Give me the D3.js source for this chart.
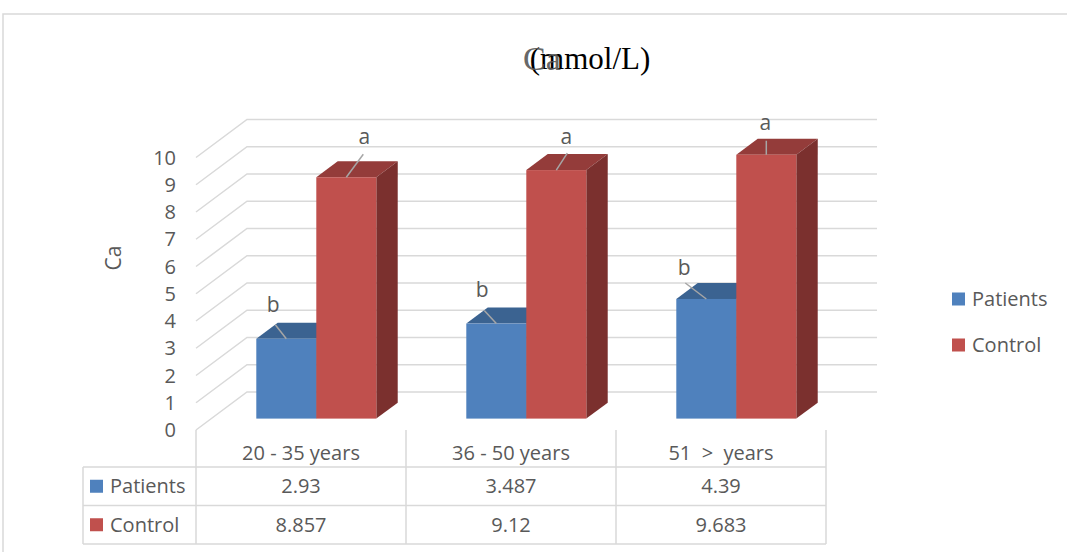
<!DOCTYPE html>
<html>
<head>
<meta charset="utf-8">
<script src="https://cdn.jsdelivr.net/npm/d3@7"></script>
<style>
  html, body { margin: 0; padding: 0; background: #fff; }
  svg { display: block; }
  text { white-space: pre; }
</style>
</head>
<body>
<svg id="chart" width="1067" height="552"></svg>
<script>
// ---- data ----
const categories = ["20 - 35 years", "36 - 50 years", "51  >  years"];
const seriesNames = ["Patients", "Control"];
const patients = [2.93, 3.487, 4.39];
const control = [8.857, 9.12, 9.683];
const patientLetters = ["b", "b", "b"];
const controlLetters = ["a", "a", "a"];
const yTicks = [0, 1, 2, 3, 4, 5, 6, 7, 8, 9, 10];

// ---- styling / layout ----
const colors = {
  Patients: { front: "#4f81bd", top: "#3b6391", side: "#335882" },
  Control:  { front: "#c0504d", top: "#943c3a", side: "#7b302e" }
};
const textColor = "#595959";
const gridColor = "#d9d9d9";
const uiFont = "'Open Sans', 'Noto Sans', sans-serif";
const serifFont = "'Liberation Serif', 'Times New Roman', serif";

const plotLeft = 196, plotRight = 826;
const floorY = 430;                 // value 0 on the front plane
const depth = { x: 51, y: -38 };    // front plane -> back wall
const barNear = 0.30, barFar = 0.72; // bar depth, as fraction of the full depth
const barWidth = 60;

const svg = d3.select("#chart");

const x = d3.scaleBand().domain(categories).range([plotLeft, plotRight]).padding(0);
const y = d3.scaleLinear().domain([0, 10]).range([floorY, floorY - 272.5]);

// outer chart frame
svg.append("rect")
  .attr("x", 3).attr("y", 14).attr("width", 1100).attr("height", 600)
  .attr("fill", "none").attr("stroke", gridColor).attr("stroke-width", 1.5);

// title: unit text with the "Ca" symbol set over its start
svg.append("text")
  .attr("x", 590).attr("y", 69)
  .attr("text-anchor", "middle")
  .attr("font-family", serifFont)
  .attr("font-size", 31)
  .attr("fill", "#000")
  .text("(mmol/L)");
svg.append("text")
  .attr("x", 523).attr("y", 70)
  .attr("font-family", serifFont)
  .attr("font-size", 34)
  .attr("fill", "#595959")
  .attr("fill-opacity", 0.92)
  .text("Ca");

// gridlines: side wall diagonals + back wall horizontals
const grid = svg.append("g").attr("stroke", gridColor).attr("stroke-width", 1.5).attr("fill", "none");
yTicks.forEach(t => {
  const yf = y(t);
  grid.append("path")
    .attr("d", `M${plotLeft},${yf} L${plotLeft + depth.x},${yf + depth.y} L${plotRight + depth.x},${yf + depth.y}`);
});

// y tick labels
svg.append("g").selectAll("text").data(yTicks).join("text")
  .attr("x", 176).attr("y", d => y(d))
  .attr("dy", "0.36em")
  .attr("text-anchor", "end")
  .attr("font-family", uiFont).attr("font-size", 20)
  .attr("fill", textColor)
  .text(d => d);

// y axis title
svg.append("text")
  .attr("transform", "translate(121,258) rotate(-90)")
  .attr("text-anchor", "middle")
  .attr("font-family", uiFont).attr("font-size", 21)
  .attr("fill", textColor)
  .text("Ca");

// bars
const d0 = { x: depth.x * barNear, y: depth.y * barNear };
const d1 = { x: depth.x * barFar, y: depth.y * barFar };
const inner = d3.scaleBand().domain(seriesNames);
const values = { Patients: patients, Control: control };

const barsG = svg.append("g");
categories.forEach((cat, i) => {
  const c = x(cat) + x.bandwidth() / 2;
  inner.range([c - barWidth, c + barWidth]);
  seriesNames.forEach(s => {
    const v = values[s][i];
    const x0 = inner(s), x1 = x0 + inner.bandwidth();
    const yt = y(v), yb = y(0);
    const col = colors[s];
    const g = barsG.append("g");
    // top face
    g.append("path")
      .attr("d", `M${x0 + d0.x},${yt + d0.y} L${x1 + d0.x},${yt + d0.y} L${x1 + d1.x},${yt + d1.y} L${x0 + d1.x},${yt + d1.y} Z`)
      .attr("fill", col.top);
    // side face
    g.append("path")
      .attr("d", `M${x1 + d0.x},${yt + d0.y} L${x1 + d1.x},${yt + d1.y} L${x1 + d1.x},${yb + d1.y} L${x1 + d0.x},${yb + d0.y} Z`)
      .attr("fill", col.side);
    // front face
    g.append("rect")
      .attr("x", x0 + d0.x).attr("y", yt + d0.y)
      .attr("width", x1 - x0).attr("height", yb - yt)
      .attr("fill", col.front);
  });
});

// significance letters with leader lines (offsets from the bar's top front edge)
const letterOffsets = {
  Patients: [{ lx: -11, ly: -14, tx: -13, ty: -34 }, { lx: -12, ly: -13, tx: -14, ty: -34 }, { lx: -21, ly: -16, tx: -22, ty: -32 }],
  Control:  [{ lx: 17, ly: -23, tx: 18, ty: -41 }, { lx: 11, ly: -17, tx: 10, ty: -34 }, { lx: 0, ly: -14, tx: -1, ty: -32 }]
};
const letters = { Patients: patientLetters, Control: controlLetters };
const labelsG = svg.append("g");
categories.forEach((cat, i) => {
  const c = x(cat) + x.bandwidth() / 2;
  inner.range([c - barWidth, c + barWidth]);
  seriesNames.forEach(s => {
    const v = values[s][i];
    const px = inner(s) + inner.bandwidth() / 2 + d0.x;
    const py = y(v) + d0.y;
    const o = letterOffsets[s][i];
    labelsG.append("line")
      .attr("x1", px).attr("y1", py)
      .attr("x2", px + o.lx).attr("y2", py + o.ly)
      .attr("stroke", "#a6a6a6").attr("stroke-width", 1.5);
    labelsG.append("text")
      .attr("x", px + o.tx).attr("y", py + o.ty)
      .attr("dy", "0.36em")
      .attr("text-anchor", "middle")
      .attr("font-family", uiFont).attr("font-size", 21)
      .attr("fill", textColor)
      .text(letters[s][i]);
  });
});

// data table
const rowTop = 467, rowH = 38.5, headerLeft = 83;
const table = svg.append("g").attr("stroke", gridColor).attr("stroke-width", 1.5).attr("fill", "none");
const colEdges = [plotLeft].concat(categories.map(c => x(c) + x.bandwidth()));
colEdges.forEach(cx => {
  table.append("line").attr("x1", cx).attr("x2", cx).attr("y1", floorY).attr("y2", rowTop + 2 * rowH);
});
table.append("line").attr("x1", headerLeft).attr("x2", headerLeft).attr("y1", rowTop).attr("y2", rowTop + 2 * rowH);
[0, 1, 2].forEach(k => {
  table.append("line").attr("x1", headerLeft).attr("x2", plotRight)
    .attr("y1", rowTop + k * rowH).attr("y2", rowTop + k * rowH);
});

// category labels
svg.append("g").selectAll("text").data(categories).join("text")
  .attr("x", d => x(d) + x.bandwidth() / 2).attr("y", 453)
  .attr("dy", "0.36em")
  .attr("text-anchor", "middle")
  .attr("font-family", uiFont).attr("font-size", 20)
  .attr("fill", textColor)
  .text(d => d);

// rows
seriesNames.forEach((s, r) => {
  const cy = rowTop + r * rowH + rowH / 2;
  svg.append("rect")
    .attr("x", 90).attr("y", cy - 6.5).attr("width", 13).attr("height", 13)
    .attr("fill", colors[s].front);
  svg.append("text")
    .attr("x", 110).attr("y", cy).attr("dy", "0.36em")
    .attr("font-family", uiFont).attr("font-size", 20)
    .attr("fill", textColor)
    .text(s);
  svg.append("g").selectAll("text").data(values[s]).join("text")
    .attr("x", (d, i) => x(categories[i]) + x.bandwidth() / 2)
    .attr("y", cy).attr("dy", "0.36em")
    .attr("text-anchor", "middle")
    .attr("font-family", uiFont).attr("font-size", 20)
    .attr("fill", textColor)
    .text(d => d);
});

// legend
const legend = svg.append("g");
seriesNames.forEach((s, i) => {
  const cy = 299 + i * 46;
  legend.append("rect")
    .attr("x", 952).attr("y", cy - 6.5).attr("width", 13).attr("height", 13)
    .attr("fill", colors[s].front);
  legend.append("text")
    .attr("x", 972).attr("y", cy).attr("dy", "0.36em")
    .attr("font-family", uiFont).attr("font-size", 20)
    .attr("fill", textColor)
    .text(s);
});
</script>
</body>
</html>
